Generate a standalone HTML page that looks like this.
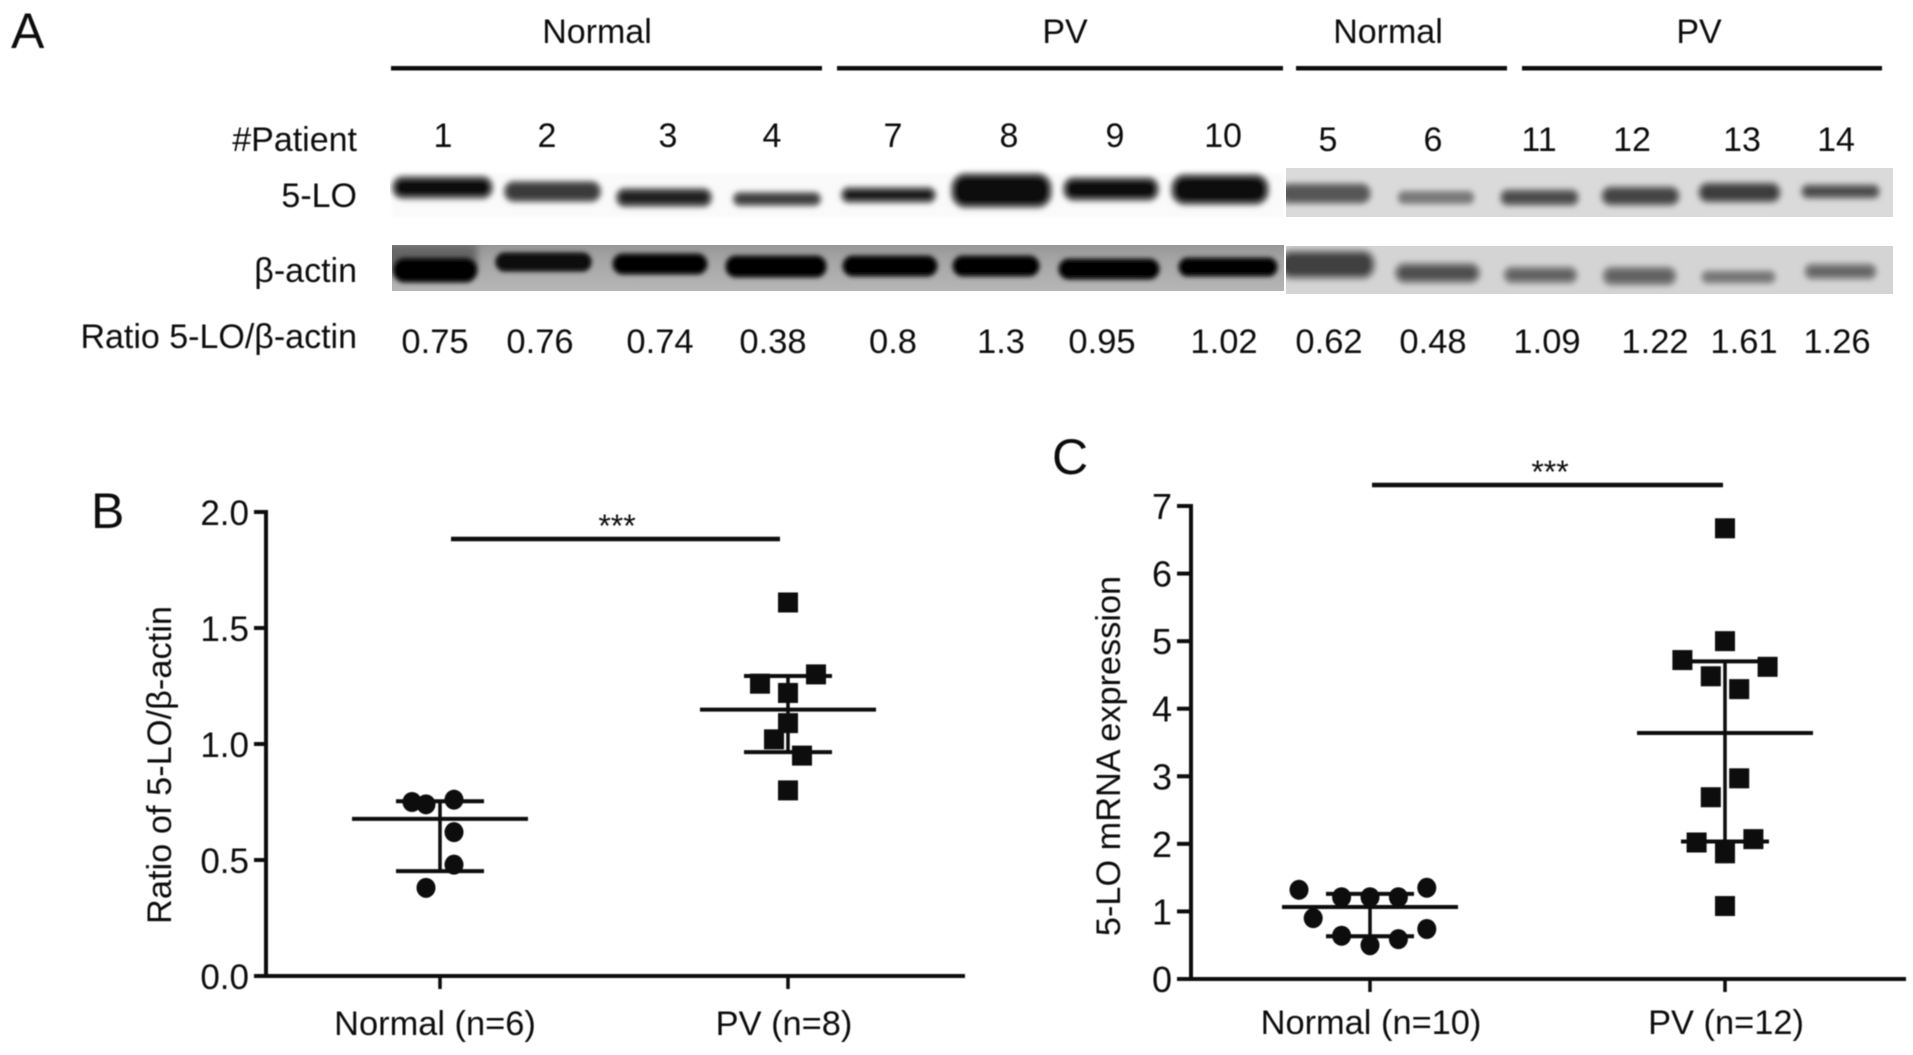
<!DOCTYPE html>
<html lang="en">
<head>
<meta charset="utf-8">
<title>5-LO expression in Normal and PV patients</title>
<style>
html,body{margin:0;padding:0;background:#fff;width:1913px;height:1055px;overflow:hidden}
svg{display:block;position:absolute;left:0;top:0}
text{font-family:"Liberation Sans","DejaVu Sans",sans-serif;fill:#111}
</style>
</head>
<body>
<svg id="fig" width="1913" height="1055" viewBox="0 0 1913 1055" xmlns="http://www.w3.org/2000/svg">
<defs>
<filter id="b2" x="-20%" y="-60%" width="140%" height="220%"><feGaussianBlur stdDeviation="2.6"/></filter>
<filter id="b4" x="-20%" y="-60%" width="140%" height="220%"><feGaussianBlur stdDeviation="2"/></filter>
<filter id="b5" x="-30%" y="-80%" width="160%" height="260%"><feGaussianBlur stdDeviation="4"/></filter>
<filter id="b3" x="-5%" y="-20%" width="110%" height="140%"><feGaussianBlur stdDeviation="1"/></filter>
<filter id="soft" x="-5%" y="-5%" width="110%" height="110%"><feGaussianBlur stdDeviation="0.45"/></filter>
<linearGradient id="actinBg" x1="0" y1="0" x2="0" y2="1"><stop offset="0" stop-color="#979797"/><stop offset="0.35" stop-color="#a6a6a6"/><stop offset="1" stop-color="#b6b6b6"/></linearGradient>
<clipPath id="clipLeftTop"><rect x="390" y="165" width="896" height="54"/></clipPath>
<clipPath id="clipRightTop"><rect x="1286" y="168" width="607" height="49"/></clipPath>
<clipPath id="clipLeftBottom"><rect x="392" y="245" width="892" height="46"/></clipPath>
<clipPath id="clipRightBottom"><rect x="1286" y="246" width="607" height="48"/></clipPath>
</defs>

<g>
<g filter="url(#soft)">
<text x="11" y="48" font-size="50">A</text>
<text x="597" y="43" font-size="34" text-anchor="middle">Normal</text>
<text x="1065" y="43" font-size="34" text-anchor="middle">PV</text>
<text x="1388" y="43" font-size="34" text-anchor="middle">Normal</text>
<text x="1699" y="43" font-size="34" text-anchor="middle">PV</text>
<rect x="391" y="66" width="431" height="4.5" fill="#0a0a0a"/>
<rect x="837" y="66" width="446" height="4.5" fill="#0a0a0a"/>
<rect x="1296" y="66" width="211" height="4.5" fill="#0a0a0a"/>
<rect x="1522" y="66" width="360" height="4.5" fill="#0a0a0a"/>

<text x="357" y="151" font-size="34" text-anchor="end">#Patient</text>
<text x="357" y="207" font-size="34" text-anchor="end">5-LO</text>
<text x="357" y="282" font-size="34" text-anchor="end">β-actin</text>
<text x="357" y="348" font-size="34" text-anchor="end">Ratio 5-LO/β-actin</text>

<g font-size="34" text-anchor="middle">
<text x="443" y="147">1</text>
<text x="547" y="147">2</text>
<text x="668" y="147">3</text>
<text x="772" y="147">4</text>
<text x="893" y="147">7</text>
<text x="1009" y="147">8</text>
<text x="1115" y="147">9</text>
<text x="1223" y="147">10</text>
<text x="1328" y="151">5</text>
<text x="1433" y="151">6</text>
<text x="1539" y="151">11</text>
<text x="1632" y="151">12</text>
<text x="1742" y="151">13</text>
<text x="1836" y="151">14</text>
</g>

<g font-size="34.5" text-anchor="middle">
<text x="435" y="353">0.75</text>
<text x="540" y="353">0.76</text>
<text x="660" y="353">0.74</text>
<text x="773" y="353">0.38</text>
<text x="893" y="353">0.8</text>
<text x="1001" y="353">1.3</text>
<text x="1102" y="353">0.95</text>
<text x="1224" y="353">1.02</text>
<text x="1329" y="353">0.62</text>
<text x="1433" y="353">0.48</text>
<text x="1547" y="353">1.09</text>
<text x="1655" y="353">1.22</text>
<text x="1744" y="353">1.61</text>
<text x="1837" y="353">1.26</text>
</g>
</g>

<g clip-path="url(#clipLeftTop)">
<rect x="392" y="173" width="892" height="44" fill="#fafafa" filter="url(#b3)"/>
<g filter="url(#b2)" stroke="#777" stroke-width="3">
<rect x="393" y="177" width="99" height="21" rx="10" fill="#0e0e0e"/>
<rect x="505" y="182" width="95" height="19" rx="9" fill="#3a3a3a"/>
<rect x="617" y="189" width="94" height="17" rx="8" fill="#222"/>
<rect x="734" y="193" width="86" height="12" rx="6" fill="#3a3a3a"/>
<rect x="842" y="188" width="93" height="14" rx="7" fill="#121212"/>
<rect x="952" y="174" width="99" height="33" rx="14" fill="#0c0c0c"/>
<rect x="1064" y="178" width="94" height="22" rx="10" fill="#0c0c0c"/>
<rect x="1172" y="175" width="96" height="29" rx="13" fill="#0a0a0a"/>
</g>
</g>
<g clip-path="url(#clipRightTop)">
<rect x="1286" y="168" width="607" height="49" fill="#dadada"/>
<g filter="url(#b2)" stroke="#8c8c8c" stroke-width="3">
<rect x="1280" y="184" width="90" height="19" rx="9" fill="#565656"/>
<rect x="1399" y="192" width="74" height="11" rx="5" fill="#787878"/>
<rect x="1501" y="190" width="77" height="15" rx="7" fill="#4c4c4c"/>
<rect x="1602" y="187" width="77" height="18" rx="9" fill="#444"/>
<rect x="1699" y="183" width="81" height="19" rx="9" fill="#3e3e3e"/>
<rect x="1802" y="185" width="77" height="13" rx="6" fill="#4c4c4c"/>
</g>
</g>
<g clip-path="url(#clipLeftBottom)">
<rect x="392" y="245" width="892" height="46" fill="url(#actinBg)"/>
<rect x="385" y="244" width="92" height="22" fill="#666" filter="url(#b5)"/>
<g filter="url(#b4)" stroke="#2a2a2a" stroke-width="2">
<rect x="393" y="258" width="84" height="24" rx="12" fill="#060606"/>
<rect x="496" y="253" width="95" height="18" rx="9" fill="#0c0c0c"/>
<rect x="613" y="254" width="94" height="20" rx="10" fill="#060606"/>
<rect x="726" y="256" width="100" height="21" rx="10" fill="#040404"/>
<rect x="843" y="256" width="94" height="20" rx="10" fill="#040404"/>
<rect x="953" y="256" width="86" height="20" rx="10" fill="#030303"/>
<rect x="1059" y="259" width="100" height="20" rx="10" fill="#040404"/>
<rect x="1179" y="258" width="98" height="18" rx="9" fill="#030303"/>
</g>
</g>
<g clip-path="url(#clipRightBottom)">
<rect x="1286" y="246" width="607" height="48" fill="#d4d4d4"/>
<g filter="url(#b2)" stroke="#8e8e8e" stroke-width="4">
<rect x="1280" y="251" width="94" height="27" rx="12" fill="#404040"/>
<rect x="1396" y="264" width="83" height="18" rx="9" fill="#505050"/>
<rect x="1505" y="268" width="71" height="14" rx="7" fill="#606060"/>
<rect x="1604" y="268" width="71" height="16" rx="8" fill="#626262"/>
<rect x="1703" y="272" width="71" height="10" rx="5" fill="#707070"/>
<rect x="1806" y="265" width="69" height="13" rx="6" fill="#646464"/>
</g>
</g>
</g>

<g id="panelB" filter="url(#soft)">
<text x="91" y="528" font-size="50">B</text>
<text transform="translate(171,765) rotate(-90)" font-size="34.4" text-anchor="middle">Ratio of 5-LO/β-actin</text>
</g>
<g id="panelC" filter="url(#soft)">
<text x="1052" y="474" font-size="50">C</text>
<text transform="translate(1120,756) rotate(-90)" font-size="34.3" text-anchor="middle">5-LO mRNA expression</text>
</g>
</svg>

<script>
// Panel B data
const bCategories = ['Normal (n=6)', 'PV (n=8)'];
const bTickValues = [0, 0.5, 1, 1.5, 2];
const bTickLabels = ['0.0', '0.5', '1.0', '1.5', '2.0'];
const bNormalValues = [0.75, 0.74, 0.76, 0.62, 0.48, 0.38];
const bNormalSlots = [-2, -1, 1, 1, 1, -1];
const bPvValues = [1.61, 1.3, 1.26, 1.22, 1.09, 1.02, 0.95, 0.8];
const bPvSlots = [0, 2, -2, 0, 0, -1, 1, 0];
const bMeans = [0.677, 1.148];
const bUpper = [0.753, 1.293];
const bLower = [0.452, 0.965];

// Panel C data
const cCategories = ['Normal (n=10)', 'PV (n=12)'];
const cTickValues = [0, 1, 2, 3, 4, 5, 6, 7];
const cTickLabels = ['0', '1', '2', '3', '4', '5', '6', '7'];
const cNormalValues = [1.35, 1.32, 1.21, 1.21, 1.21, 0.90, 0.74, 0.64, 0.59, 0.50];
const cNormalSlots = [4, -5, -2, 0, 2, -4, 4, -2, 2, 0];
const cPvValues = [6.67, 5.0, 4.72, 4.62, 4.48, 4.29, 2.97, 2.69, 2.07, 2.02, 1.86, 1.08];
const cPvSlots = [0, 0, -3, 3, -1, 1, 1, -1, 2, -2, 0, 0];
const cMeans = [1.065, 3.64];
const cUpper = [1.26, 4.70];
const cLower = [0.633, 2.035];

const NS = 'http://www.w3.org/2000/svg';

function line(parent, x1, y1, x2, y2, w) {
  const el = document.createElementNS(NS, 'line');
  el.setAttribute('x1', x1);
  el.setAttribute('y1', y1);
  el.setAttribute('x2', x2);
  el.setAttribute('y2', y2);
  el.setAttribute('stroke', '#0a0a0a');
  el.setAttribute('stroke-width', w);
  parent.appendChild(el);
  return el;
}

function label(parent, x, y, size, anchor, str) {
  const el = document.createElementNS(NS, 'text');
  el.setAttribute('x', x);
  el.setAttribute('y', y);
  el.setAttribute('font-size', size);
  el.setAttribute('text-anchor', anchor);
  el.textContent = str;
  parent.appendChild(el);
  return el;
}

function drawPanel(root, cfg) {
  const y = v => cfg.y0 - (v / cfg.vMax) * (cfg.y0 - cfg.yTop);
  const x = (group, slot) => cfg.xCats[group] + slot * cfg.slot;

  const yAxis = line(root, cfg.xAxis, cfg.yTop - 2, cfg.xAxis, cfg.y0 + 2, 4);
  
  

  const xAxis = line(root, cfg.xTick, cfg.y0, cfg.xEnd, cfg.y0, 4);
  
  

  cfg.ticks.forEach((t, i) => {
    const tick = line(root, cfg.xTick, y(t), cfg.xAxis, y(t), 4);
    
    
    const tl = label(root, cfg.xTick - 5, y(t) + 13, cfg.tickSize, 'end', cfg.tickLabels[i]);
    
    
  });

  cfg.categories.forEach((c, i) => {
    const tick = line(root, cfg.xCats[i], cfg.y0, cfg.xCats[i], cfg.y0 + 13, 3.5);
    
    
    const tl = label(root, cfg.xCats[i] + cfg.labelShift[i], cfg.labelY, 34.4, 'middle', c);
    
    
  });

  cfg.normal.forEach((v, i) => {
    const c = document.createElementNS(NS, 'ellipse');
    c.setAttribute('cx', x(0, cfg.normalSlots[i]));
    c.setAttribute('cy', y(v));
    c.setAttribute('rx', 9.5);
    c.setAttribute('ry', 10);
    c.setAttribute('fill', '#0a0a0a');
    
    
    root.appendChild(c);
  });

  cfg.pv.forEach((v, i) => {
    const r = document.createElementNS(NS, 'rect');
    r.setAttribute('x', x(1, cfg.pvSlots[i]) - 10);
    r.setAttribute('y', y(v) - 10);
    r.setAttribute('width', 20);
    r.setAttribute('height', 20);
    r.setAttribute('fill', '#0a0a0a');
    
    
    root.appendChild(r);
  });

  cfg.means.forEach((m, i) => {
    const xc = cfg.xCats[i];
    const stem = line(root, xc, y(cfg.upper[i]), xc, y(cfg.lower[i]), 3.5);
    
    
    const meanLine = line(root, xc - 88, y(m), xc + 88, y(m), 4);
    
    
    const capTop = line(root, xc - 44, y(cfg.upper[i]), xc + 44, y(cfg.upper[i]), 4);
    
    
    const capBottom = line(root, xc - 44, y(cfg.lower[i]), xc + 44, y(cfg.lower[i]), 4);
    
    
  });

  const sig = line(root, cfg.sig[0], cfg.sigY, cfg.sig[1], cfg.sigY, 4.5);
  
  
  const stars = label(root, cfg.starX, cfg.sigY - 2, 32, 'middle', '***');
  
  
}

drawPanel(document.getElementById('panelB'), {
  categories: bCategories, ticks: bTickValues, tickLabels: bTickLabels,
  normal: bNormalValues, normalSlots: bNormalSlots, pv: bPvValues, pvSlots: bPvSlots,
  means: bMeans, upper: bUpper, lower: bLower, vMax: 2,
  xAxis: 266, xTick: 254, xEnd: 965, y0: 976, yTop: 512,
  xCats: [440, 788], slot: 14, tickSize: 35, labelY: 1035, labelShift: [-5, -4],
  sig: [451, 780], sigY: 539, starX: 617
});

drawPanel(document.getElementById('panelC'), {
  categories: cCategories, ticks: cTickValues, tickLabels: cTickLabels,
  normal: cNormalValues, normalSlots: cNormalSlots, pv: cPvValues, pvSlots: cPvSlots,
  means: cMeans, upper: cUpper, lower: cLower, vMax: 7,
  xAxis: 1191, xTick: 1177, xEnd: 1906, y0: 979, yTop: 506,
  xCats: [1370, 1725], slot: 14.2, tickSize: 36, labelY: 1034, labelShift: [1, 1],
  sig: [1372, 1723], sigY: 485, starX: 1550
});
</script>
</body>
</html>
